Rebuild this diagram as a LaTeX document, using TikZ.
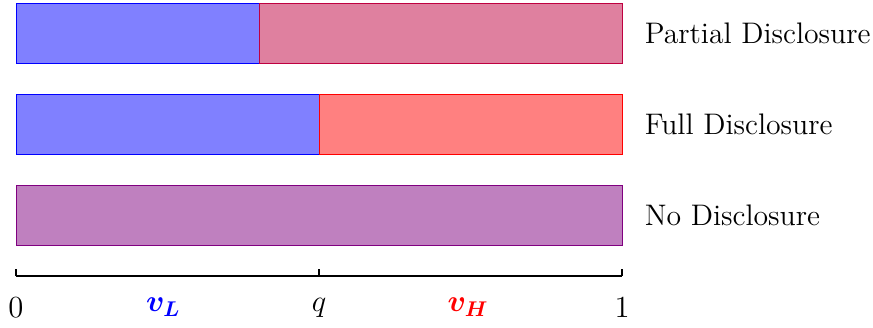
\documentclass[tikz,border=0pt]{standalone}
\usepackage{amsmath}
\usepackage{bm}
\usepackage{tikz}
\usetikzlibrary{positioning}
\tikzset{
    lowpart/.style={draw=blue, fill=blue!50},
    highpart/.style={draw=red, fill=red!50},
    mixpart/.style={draw=purple, fill=purple!50},
    poolpart/.style={draw=violet, fill=violet!50},
    barlabel/.style={anchor=west, font=\fontsize{13.95}{16.5}\selectfont},
    ticklabel/.style={anchor=north, font=\fontsize{13.95}{16.5}\selectfont},
    axisline/.style={draw, thick},
    tickline/.style={draw, semithick}
}

\begin{document}
\begin{tikzpicture}
    \useasboundingbox (-0.264,-0.842) rectangle (14.14,4.554);

    % bars
    \draw[lowpart] (0,3.5) rectangle (4.01,4.5);
    \draw[mixpart] (4.01,3.5) rectangle (10,4.5);
    \draw[lowpart] (0,2) rectangle (5,3);
    \draw[highpart] (5,2) rectangle (10,3);
    \draw[poolpart] (0,0.5) rectangle (10,1.5);

    \coordinate (pend) at (10,4);
    \coordinate (fend) at (10,2.5);
    \coordinate (nend) at (10,1);
    \node[barlabel, right=0.25cm of pend] (partial) {Partial Disclosure};
    \node[barlabel, right=0.25cm of fend] (full) {Full Disclosure};
    \node[barlabel, right=0.25cm of nend] (none) {No Disclosure};

    % axis
    \coordinate (zero) at (0,0);
    \coordinate (mid) at (5,0);
    \coordinate (one) at (10,0);
    \draw[axisline] (zero) -- (one);
    \foreach \x in {0,5,10}
        \draw[tickline] (\x,0) -- (\x,0.12);

    \node[ticklabel] (lzero) at (0,-0.24) {$0$};
    \node[ticklabel] (lvl) at (2.43,-0.24) {\color{blue}$\bm{v_L}$};
    \node[ticklabel] (lq) at (5,-0.24) {$q$};
    \node[ticklabel] (lvh) at (7.46,-0.24) {\color{red}$\bm{v_H}$};
    \node[ticklabel] (lone) at (10,-0.24) {$1$};
\end{tikzpicture}
\end{document}
